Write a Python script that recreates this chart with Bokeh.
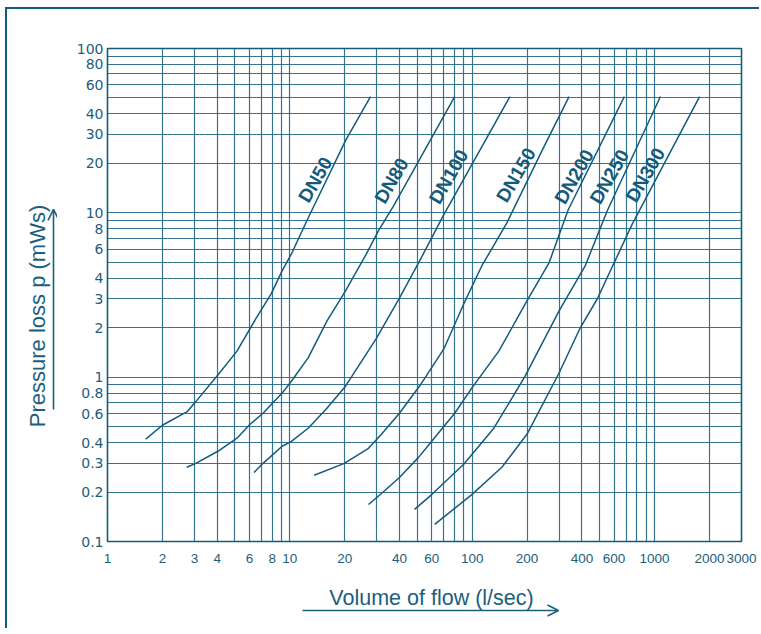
import math
from bokeh.plotting import figure
from bokeh.layouts import column, row
from bokeh.models import (Range1d, FixedTicker, CustomJSTickFormatter, Label,
                          Arrow, OpenHead)
from bokeh.embed import file_html
from bokeh.resources import INLINE

# ---- data (flow in l/sec, pressure loss in mWs) ----
dn50_q = [1.62, 2.0, 2.75, 3.05, 4.03, 5.13, 6.5, 7.9, 9.07, 10.2, 12.6, 20.2, 27.7]
dn50_p = [0.42, 0.51, 0.62, 0.71, 1.03, 1.44, 2.26, 3.21, 4.43, 5.62, 9.3, 27.5, 51]

dn80_q = [2.72, 3.05, 4.03, 5.13, 6.05, 7.13, 9.07, 10.2, 12.6, 16.0, 20.2, 26.3, 30.6, 37.0, 80.2]
dn80_p = [0.283, 0.299, 0.354, 0.425, 0.517, 0.603, 0.80, 0.945, 1.31, 2.20, 3.35, 5.62, 7.77, 11.0, 51]

dn100_q = [6.36, 7.13, 9.07, 10.2, 12.6, 15.8, 20.2, 29.9, 39.9, 51.5, 69.8, 161]
dn100_p = [0.263, 0.299, 0.380, 0.407, 0.489, 0.638, 0.881, 1.73, 3.03, 5.10, 9.72, 51]

dn150_q = [13.6, 19.9, 27.0, 31.8, 39.9, 52.8, 69.8, 89.9, 112.9, 155, 241.6, 340]
dn150_p = [0.253, 0.299, 0.369, 0.449, 0.603, 0.919, 1.48, 2.79, 4.75, 8.69, 23.9, 51]

dn200_q = [27.0, 31.8, 39.9, 50.8, 60.0, 80.2, 99.5, 140, 199.7, 264, 336, 683]
dn200_p = [0.168, 0.196, 0.245, 0.325, 0.407, 0.603, 0.857, 1.44, 2.91, 4.96, 10.4, 51]

dn250_q = [48.3, 60.0, 89.9, 131.5, 194.8, 299.7, 416.6, 550.6, 1078]
dn250_p = [0.157, 0.193, 0.295, 0.489, 1.01, 2.53, 4.75, 10.3, 51]

dn300_q = [62.3, 99.5, 145.5, 199.7, 299.7, 391, 485, 756, 1767]
dn300_p = [0.127, 0.193, 0.283, 0.449, 1.06, 1.99, 2.99, 8.57, 51]

curve_names = ["DN50", "DN80", "DN100", "DN150", "DN200", "DN250", "DN300"]
curves_q = [dn50_q, dn80_q, dn100_q, dn150_q, dn200_q, dn250_q, dn300_q]
curves_p = [dn50_p, dn80_p, dn100_p, dn150_p, dn200_p, dn250_p, dn300_p]

x_tick_labels = [1, 2, 3, 4, 6, 8, 10, 20, 40, 60, 100, 200, 400, 600, 1000, 2000, 3000]
y_tick_labels = [0.1, 0.2, 0.3, 0.4, 0.6, 0.8, 1, 2, 3, 4, 6, 8, 10, 20, 30, 40, 60, 80, 100]

x_title = "Volume of flow (l/sec)"
y_title = "Pressure loss p (mWs)"

# label anchor positions (data coords) for the curve names
label_q = [13.8, 36.1, 74.3, 174, 362, 565, 891]
label_p = [15.9, 15.7, 16.6, 17.0, 16.6, 16.6, 17.0]

# ---- styling ----
TEAL = "#135b7b"
GRID = "#2a6b89"
TXT = "#1d5e7e"

x_grid = [k * 10 ** d for d in range(0, 4) for k in range(1, 10) if k * 10 ** d <= 3000]
y_grid = [round(k * 10 ** d, 3) for d in range(-1, 3) for k in range(1, 10) if k * 10 ** d <= 100]

MAIN_W, MAIN_H, LEFT_W, BOTTOM_H = 702, 564, 50, 55

p = figure(width=MAIN_W, height=MAIN_H, x_axis_type="log", y_axis_type="log",
           x_range=Range1d(1, 3000), y_range=Range1d(0.1, 100),
           output_backend="svg", toolbar_location=None,
           min_border_left=50, min_border_right=18,
           min_border_top=39, min_border_bottom=32)
p.background_fill_color = "white"
p.border_fill_color = "white"
p.outline_line_color = TEAL
p.outline_line_width = 1.6

p.xaxis.ticker = FixedTicker(ticks=x_tick_labels)
p.yaxis.ticker = FixedTicker(ticks=y_tick_labels)
p.xgrid.ticker = FixedTicker(ticks=x_grid)
p.ygrid.ticker = FixedTicker(ticks=y_grid)
fmt = "return String(Math.round(tick * 10) / 10);"
p.xaxis.formatter = CustomJSTickFormatter(code=fmt)
p.yaxis.formatter = CustomJSTickFormatter(code=fmt)

for g in (p.xgrid, p.ygrid):
    g.grid_line_color = GRID
    g.grid_line_width = 1.2
    g.grid_line_alpha = 0.95

for ax in (p.xaxis, p.yaxis):
    ax.axis_line_color = None
    ax.major_tick_line_color = None
    ax.minor_tick_line_color = None
    ax.major_tick_out = 0
    ax.major_tick_in = 0
    ax.minor_tick_out = 0
    ax.major_label_text_color = TXT
p.yaxis.major_label_text_font = "DejaVu Sans"
p.yaxis.major_label_text_font_size = "14px"
p.xaxis.major_label_text_font = "Liberation Sans"
p.xaxis.major_label_text_font_size = "13.5px"
p.yaxis.major_label_standoff = 4
p.xaxis.major_label_standoff = 12

for q, pr in zip(curves_q, curves_p):
    p.line(q, pr, line_color=TEAL, line_width=1.5)

for name, lq, lp in zip(curve_names, label_q, label_p):
    p.add_layout(Label(x=lq, y=lp, text=name, angle=math.radians(60),
                       text_align="center", text_baseline="middle",
                       text_font="Liberation Sans", text_font_style="bold",
                       text_font_size="19px", text_color=TEAL))


def side_fig(w, h):
    f = figure(width=w, height=h, x_range=Range1d(0, w), y_range=Range1d(h, 0),
               output_backend="svg", toolbar_location=None,
               x_axis_location=None, y_axis_location=None, min_border=0)
    f.grid.visible = False
    f.outline_line_color = None
    f.background_fill_color = "white"
    f.border_fill_color = "white"
    return f


# left strip: vertical axis title and arrow (pixel coordinates of the strip)
left = side_fig(LEFT_W, MAIN_H)
left.add_layout(Label(x=30, y=306, text=y_title, angle=math.pi / 2,
                      text_align="center", text_baseline="middle",
                      text_font="Liberation Sans", text_font_size="22px", text_color=TXT))
left.add_layout(Arrow(x_start=46, y_start=413, x_end=46, y_end=184,
                      line_color=TXT, line_width=1.6,
                      end=OpenHead(size=11, line_color=TXT, line_width=1.6)))

# bottom strip: horizontal axis title and arrow
bottom = side_fig(LEFT_W + MAIN_W, BOTTOM_H)
bottom.add_layout(Label(x=424, y=24, text=x_title,
                        text_align="center", text_baseline="middle",
                        text_font="Liberation Sans", text_font_size="21.5px", text_color=TXT))
bottom.add_layout(Arrow(x_start=295, y_start=37, x_end=551, y_end=37,
                        line_color=TXT, line_width=1.6,
                        end=OpenHead(size=11, line_color=TXT, line_width=1.6)))

layout = column(row(left, p, spacing=0), bottom, spacing=0)
layout.styles = {"border-left": "2px solid " + TEAL, "border-top": "2px solid " + TEAL,
                 "margin-left": "5px", "margin-top": "7px"}

open("out.html", "w").write(file_html(layout, INLINE))
